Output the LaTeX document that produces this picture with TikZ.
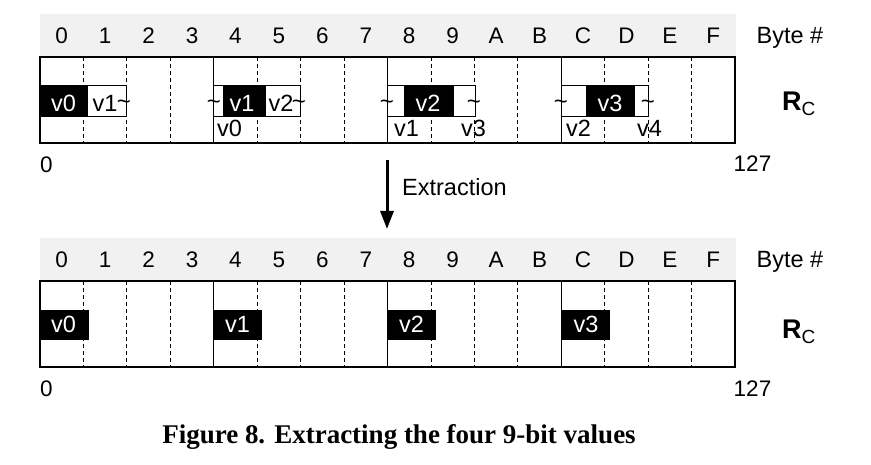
\documentclass[tikz,border=0pt]{standalone}
\usepackage{fontspec}
\setmainfont{Liberation Sans}
\newfontfamily\capfont{Liberation Serif}
\usetikzlibrary{arrows.meta}
\definecolor{hdr}{RGB}{241,241,241}
\begin{document}
\begin{tikzpicture}[x=1pt,y=-1pt,
  lbl/.style={inner sep=0pt, anchor=base, font=\fontsize{23.5}{23.5}\selectfont},
  dig/.style={inner sep=0pt, anchor=base, font=\fontsize{22.5}{22.5}\selectfont},
  wlbl/.style={lbl, text=white},
  tld/.style={inner sep=0pt, anchor=base, font=\fontsize{24}{24}\selectfont},
  reg/.style={draw, line width=2.5pt, minimum width=695pt, minimum height=86pt, inner sep=0pt},
  hdrband/.style={fill=hdr, minimum width=696pt, minimum height=43pt, inner sep=0pt},
  solidsep/.style={line width=0.9pt},
  dashsep/.style={line width=0.9pt, dash pattern=on 4pt off 3pt},
  wbox/.style={draw, fill=white, line width=0.8pt},
  bbox/.style={fill=black},
  rlbl/.style={inner sep=0pt, anchor=base west, font=\bfseries\fontsize{27}{27}\selectfont},
  flow/.style={line width=3pt, -{Triangle[length=18pt,width=13pt]}}
]
\useasboundingbox (0,0) rectangle (871,465);

% ===== top register =====
\node[hdrband] (h1) at (388,35.5) {};
\foreach \d [count=\i from 0] in {0,1,2,3,4,5,6,7,8,9,A,B,C,D,E,F}
  \node[dig] (ta\i) at ({40+(\i+0.5)*43.44},43.5) {\d};
\node[lbl] (byteA) at (790,43.5) {Byte \#};
\foreach \i in {1,...,15}{
  \pgfmathtruncatemacro{\m}{mod(\i,4)}
  \ifnum\m=0 \draw[solidsep] ({40+\i*43.44},57) -- ({40+\i*43.44},143);
  \else \draw[dashsep] ({40+\i*43.44},57) -- ({40+\i*43.44},143); \fi
}
% group 1
\draw[wbox] (40,85) rectangle (126,116);
\fill[bbox] (40,85) rectangle (88,116);
\node[wlbl] (g1a) at (63.5,112) {v0};
\node[lbl] (g1b) at (105,112) {v1};
\node[tld] (g1t) at (124,110) {\char`\~};
% group 2
\draw[wbox] (213,85) rectangle (300,116);
\fill[bbox] (222.5,85) rectangle (266,116);
\node[tld] (g2tl) at (214,110) {\char`\~};
\node[wlbl] (g2a) at (242,112) {v1};
\node[lbl] (g2b) at (281,112) {v2};
\node[tld] (g2tr) at (299,110) {\char`\~};
\node[lbl, anchor=base west] (g2c) at (217,137) {v0};
% group 3
\draw[wbox] (387,85) rectangle (475,116);
\fill[bbox] (403.5,85) rectangle (454,116);
\node[tld] (g3tl) at (387,110) {\char`\~};
\node[wlbl] (g3a) at (428,112) {v2};
\node[tld] (g3tr) at (474,110) {\char`\~};
\node[lbl, anchor=base west] (g3c) at (394,137) {v1};
\node[lbl, anchor=base west] (g3d) at (461,137) {v3};
% group 4
\draw[wbox] (561.5,85) rectangle (648,116);
\fill[bbox] (586,85) rectangle (635,116);
\node[tld] (g4tl) at (561,110) {\char`\~};
\node[wlbl] (g4a) at (610,112) {v3};
\node[tld] (g4tr) at (648,110) {\char`\~};
\node[lbl, anchor=base west] (g4c) at (566,137) {v2};
\node[lbl, anchor=base west] (g4d) at (637,137) {v4};
\node[reg] (r1) at (387.5,100) {};
\node[rlbl] (rc1) at (782,111) {R\raisebox{-0.3ex}{\mdseries\fontsize{19}{19}\selectfont C}};
\node[dig] (z1) at (46.5,172.5) {0};
\node[dig] (e1) at (752.5,172) {127};

% ===== arrow =====
\coordinate (a1) at (387,160);
\coordinate (a2) at (387,229);
\draw[flow] (a1) -- (a2);
\node[lbl, anchor=base west] (ex) at (402,196) {Extraction};

% ===== bottom register =====
\node[hdrband] (h2) at (388,259.5) {};
\foreach \d [count=\i from 0] in {0,1,2,3,4,5,6,7,8,9,A,B,C,D,E,F}
  \node[dig] (tb\i) at ({40+(\i+0.5)*43.44},267.5) {\d};
\node[lbl] (byteB) at (790,267.5) {Byte \#};
\foreach \i in {1,...,15}{
  \pgfmathtruncatemacro{\m}{mod(\i,4)}
  \ifnum\m=0 \draw[solidsep] ({40+\i*43.44},281) -- ({40+\i*43.44},367);
  \else \draw[dashsep] ({40+\i*43.44},281) -- ({40+\i*43.44},367); \fi
}
\fill[bbox] (40,310) rectangle (89,340);
\fill[bbox] (213,310) rectangle (262,340);
\fill[bbox] (387,310) rectangle (436,340);
\fill[bbox] (562,310) rectangle (610,340);
\node[wlbl] (b0) at (63.5,332.5) {v0};
\node[wlbl] (b1) at (237.5,332.5) {v1};
\node[wlbl] (b2) at (411.5,332.5) {v2};
\node[wlbl] (b3) at (586,332.5) {v3};
\node[reg] (r2) at (387.5,324) {};
\node[rlbl] (rc2) at (782,339) {R\raisebox{-0.3ex}{\mdseries\fontsize{19}{19}\selectfont C}};
\node[dig] (z2) at (46.5,396.5) {0};
\node[dig] (e2) at (752.5,396) {127};

% ===== caption =====
\node[inner sep=0pt, anchor=base, font=\capfont\bfseries\fontsize{27}{27}\selectfont] (cap) at (399,443) {Figure 8. Extracting the four 9-bit values};
\end{tikzpicture}
\end{document}
